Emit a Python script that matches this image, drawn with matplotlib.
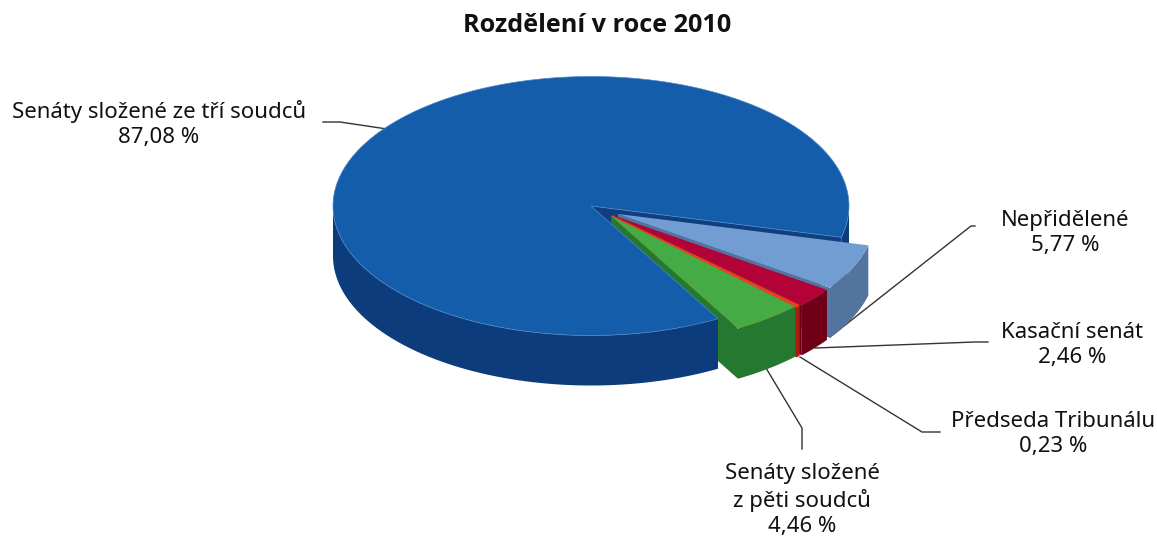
import numpy as np
import matplotlib
matplotlib.use('Agg')
import matplotlib.pyplot as plt
from matplotlib.patches import Polygon

plt.rcParams['font.family'] = ['Noto Sans', 'DejaVu Sans']

title = 'Rozdělení v roce 2010'

# hodnoty v procentech, po směru hodinových ručiček
names = ['Nepřidělené', 'Kasační senát', 'Předseda Tribunálu', 'Senáty složené\nz pěti soudců', 'Senáty složené ze tří soudců']
values = [5.77, 2.46, 0.23, 4.46, 87.08]
value_labels = ['5,77 %', '2,46 %', '0,23 %', '4,46 %', '87,08 %']

top_colors = ['#729dd3', '#b30238', '#f03c1e', '#45ab44', '#145dab']
side_colors = ['#53749e', '#700015', '#a81e14', '#247830', '#0d3c7d']
offsets = [(27, 8), (24, 10), (21, 10), (20, 10), (0, 0)]
edge_widths = [0, 0, 1.2, 0, 0]

cx, cy = 591, 206
rx, ry = 258, 129.5
depth = 50
start = -14


def arc(x0, y0, a1, a2):
    t = np.radians(np.linspace(a1, a2, 200))
    return np.column_stack([x0 + rx * np.cos(t), y0 - ry * np.sin(t)])


def band(pts):
    return np.vstack([pts, (pts + np.array([0, depth]))[::-1]])


fig = plt.figure(figsize=(11.57, 5.4), dpi=100)
ax = fig.add_axes([0, 0, 1, 1])
ax.set_xlim(0, 1157)
ax.set_ylim(540, 0)
ax.axis('off')

# vodici cary
leaders = [
    [(975, 226), (971, 226), (830, 337)],
    [(988, 342), (975, 342), (815, 348)],
    [(940, 432), (922, 432), (800, 357)],
    [(802, 449), (802, 428), (766, 368)],
    [(323, 122), (340, 122), (387, 129)],
]
for pts in leaders:
    xs, ys = zip(*pts)
    ax.plot(xs, ys, color='#333333', lw=1.0, zorder=1)

# uhly vysecí z hodnot
angles = [start]
for v in values:
    angles.append(angles[-1] - v * 3.6)

# hlavni vysec: rez, plast (jen predni casti), vrch
a1, a2 = angles[4], angles[5]
x0, y0 = cx + offsets[4][0], cy + offsets[4][1]
rim = arc(x0, y0, a1, a2)
back = rim[-1]
wall = np.array([[x0, y0], back, back + [0, depth], [x0, y0 + depth]])
ax.add_patch(Polygon(wall, closed=True, fc='#0f3f80', ec='none', zorder=1.5))
ax.add_patch(Polygon(band(arc(x0, y0, a1, -180)), closed=True, fc=side_colors[4], ec='none', zorder=2))
ax.add_patch(Polygon(band(arc(x0, y0, -360, a2)), closed=True, fc=side_colors[4], ec='none', zorder=2))
ax.add_patch(Polygon(np.vstack([[x0, y0], rim]), closed=True, fc=top_colors[4], ec='#4f86c4', lw=0.5, zorder=3))

# vysunute vysece
for i in range(4):
    a1, a2 = angles[i], angles[i + 1]
    x0, y0 = cx + offsets[i][0], cy + offsets[i][1]
    rim = arc(x0, y0, a1, a2)
    lo = rim[-1]
    wall = np.array([[x0, y0], lo, lo + [0, depth], [x0, y0 + depth]])
    ax.add_patch(Polygon(wall, closed=True, fc=side_colors[i], ec='none', zorder=1.6 + i * 0.1))
    ax.add_patch(Polygon(band(rim), closed=True, fc=side_colors[i], ec=side_colors[i], lw=edge_widths[i], zorder=4 + i))
    ax.add_patch(Polygon(np.vstack([[x0, y0], rim]), closed=True, fc=top_colors[i], ec=top_colors[i], lw=edge_widths[i], zorder=4 + i))

ax.text(597, 26, title, ha='center', va='center', fontsize=18.2, fontweight='bold', family='Open Sans', color='#111111')

label_pos = [(1065, 233), (1072, 345), (1053, 434), (802, 500), (159, 124)]
for name, val, (x, y) in zip(names, value_labels, label_pos):
    ax.text(x, y, name + '\n' + val, ha='center', va='center', fontsize=16, color='#111111', linespacing=1.27)

fig.savefig('out.png', dpi=100)
